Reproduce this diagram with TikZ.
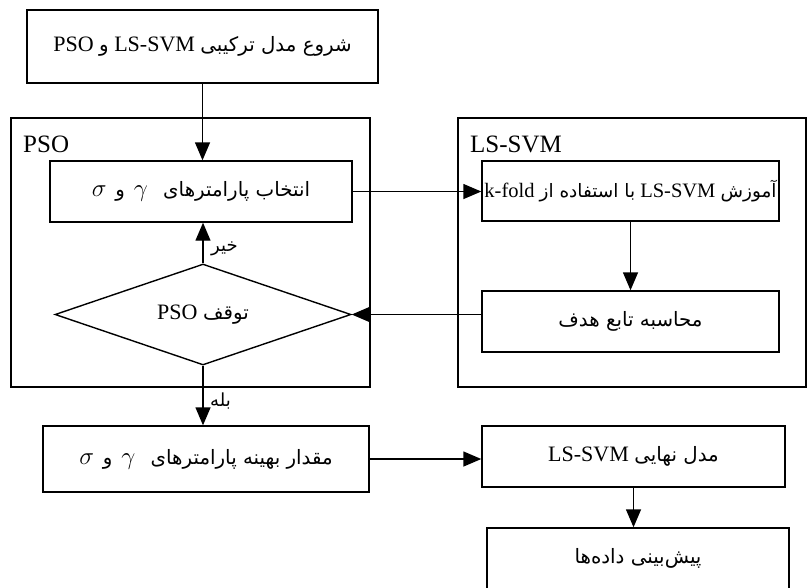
\documentclass[tikz,border=0pt]{standalone}
\usepackage{fontspec}
\setmainfont{Liberation Serif}
\newfontfamily\fa[Script=Arabic,Scale=0.9]{DejaVu Sans}
\TeXXeTstate=1
\usetikzlibrary{arrows.meta,shapes.geometric}
\newcommand{\mg}[1]{{\fontsize{25}{30}\selectfont$#1$}}
\begin{document}
\begin{tikzpicture}[x=1pt,y=-1pt,
  box/.style={draw, line width=1.4pt, inner sep=0pt, font=\fontsize{22}{26}\selectfont},
  frame/.style={draw, line width=1.4pt, inner sep=0pt},
  lab/.style={inner sep=0pt, anchor=base west, font=\fontsize{25}{30}\selectfont},
  small/.style={inner sep=0pt, anchor=west, font=\fontsize{20}{24}\selectfont},
  arr/.style={-{Triangle[length=18pt,width=15pt]}, line width=1.4pt}]
\useasboundingbox (0,0) rectangle (808,587);
\clip (0,0) rectangle (808,587);
% containers
\node[frame, minimum width=359pt, minimum height=269pt] (psofr) at (190.5,252.5) {};
\node[frame, minimum width=348pt, minimum height=269pt] (lsfr) at (632,252.5) {};
\node[lab] (psolab) at (23,152) {PSO};
\node[lab] (lslab) at (470,152) {LS-SVM};
% boxes
\node[box, minimum width=351pt, minimum height=73pt] (start) at (202.5,46.5)
  {\beginR{\fa شروع مدل ترکیبی} \beginL LS-SVM\endL{} {\fa و} \beginL PSO\endL\endR};
\node[box, minimum width=302pt, minimum height=61pt] (sel) at (201,191.5)
  {\beginR{\fa انتخاب پارامترهای}\hspace{0.7em}\beginL\mg{\gamma}\endL\hspace{0.4em}{\fa و}\hspace{0.4em}\beginL\mg{\sigma}\endL\endR};
\node[box, diamond, aspect=2.93, minimum width=296pt, minimum height=101pt] (dia) at (203,314.5)
  {\beginR{\fa توقف} \beginL PSO\endL\endR};
\node[box, minimum width=297pt, minimum height=60pt, font=\fontsize{20.5}{24}\selectfont] (train) at (630.5,191)
  {\beginR{\fa آموزش} \beginL LS-SVM\endL{} {\fa با استفاده از} \beginL k-fold\endL\endR};
\node[box, minimum width=297pt, minimum height=61pt] (comp) at (630.5,321.5)
  {\beginR{\fa محاسبه تابع هدف}\endR};
\node[box, minimum width=326pt, minimum height=66pt] (opt) at (206,459)
  {\beginR{\fa مقدار بهینه پارامترهای}\hspace{0.7em}\beginL\mg{\gamma}\endL\hspace{0.4em}{\fa و}\hspace{0.4em}\beginL\mg{\sigma}\endL\endR};
\node[box, minimum width=303pt, minimum height=61pt] (final) at (633.5,456.5)
  {\beginR{\fa مدل نهایی} \beginL LS-SVM\endL\endR};
\node[box, minimum width=302pt, minimum height=61pt] (pred) at (638,558.5)
  {\beginR{\fa پیش^^^^200cبینی داده^^^^200cها}\endR};
% connectors
\draw[arr] (start.south) -- (start.south |- sel.north);
\draw[arr] (dia.north) -- (dia.north |- sel.south);
\node[small] (no) at (211,249) {\beginR{\fa خیر}\endR};
\draw[arr] (sel.east) -- (sel.east -| train.west);
\draw[arr] (train.south) -- (train.south |- comp.north);
\draw[arr] (comp.west |- dia.east) -- (dia.east);
\draw[arr] (dia.south) -- (dia.south |- opt.north);
\node[small] (yes) at (210,401) {\beginR{\fa بله}\endR};
\draw[arr] (opt.east) -- (opt.east -| final.west);
\draw[arr] (final.south) -- (final.south |- pred.north);
\end{tikzpicture}
\end{document}
